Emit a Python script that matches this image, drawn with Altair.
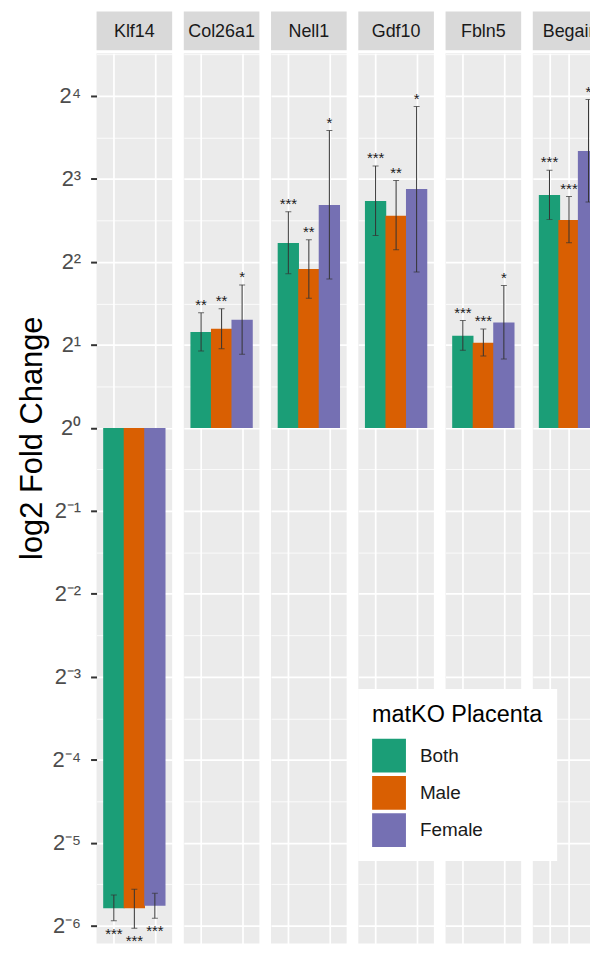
import altair as alt
import pandas as pd

genes = ["Klf14", "Col26a1", "Nell1", "Gdf10", "Fbln5", "Begain"]
groups = ["Both", "Male", "Female"]
colors = ["#1B9E77", "#D95F02", "#7570B3"]

# log2 fold change per gene (Both, Male, Female)
log2fc = {
    "Klf14":   [-5.79, -5.79, -5.76],
    "Col26a1": [1.155, 1.195, 1.303],
    "Nell1":   [2.227, 1.915, 2.686],
    "Gdf10":   [2.734, 2.558, 2.878],
    "Fbln5":   [1.111, 1.027, 1.271],
    "Begain":  [2.806, 2.506, 3.337],
}
err_low = {
    "Klf14":   [-5.94, -6.03, -5.91],
    "Col26a1": [0.927, 0.955, 0.887],
    "Nell1":   [1.859, 1.562, 1.795],
    "Gdf10":   [2.318, 2.146, 1.879],
    "Fbln5":   [0.935, 0.867, 0.831],
    "Begain":  [2.510, 2.230, 2.722],
}
err_high = {
    "Klf14":   [-5.63, -5.56, -5.61],
    "Col26a1": [1.387, 1.435, 1.723],
    "Nell1":   [2.606, 2.266, 3.585],
    "Gdf10":   [3.157, 2.982, 3.873],
    "Fbln5":   [1.295, 1.191, 1.715],
    "Begain":  [3.106, 2.790, 3.957],
}
stars = {
    "Klf14":   ["***", "***", "***"],
    "Col26a1": ["**", "**", "*"],
    "Nell1":   ["***", "**", "*"],
    "Gdf10":   ["***", "**", "*"],
    "Fbln5":   ["***", "***", "*"],
    "Begain":  ["***", "***", "*"],
}

rows = []
for g in genes:
    for i, grp in enumerate(groups):
        rows.append(dict(gene=g, group=grp, pos=i, value=log2fc[g][i],
                         lo=err_low[g][i], hi=err_high[g][i], star=stars[g][i]))
df = pd.DataFrame(rows)

FONT = "Liberation Sans"
PX_PER_UNIT = 83.4
PW = 76
STEP = PW / 3.2
PH = 895
Y_TOP = 4.516
Y_DOMAIN = [Y_TOP - PH / PX_PER_UNIT, Y_TOP]
grid_vals = [v / 2 for v in range(-12, 10)]
LAST_W = 57.5

label_expr = ("datum.value % 1 != 0 ? '' : '2' + (datum.value < 0 ? '\u207b' : '') + "
              "['\u2070','\u00b9','\u00b2','\u00b3','\u2074','\u2075','\u2076'][abs(datum.value)]")

grid_w = {"condition": {"test": "datum.value % 1 == 0", "value": 1.7}, "value": 0.8}
tick_op = {"condition": {"test": "datum.value % 1 == 0", "value": 1}, "value": 0}

color_enc = alt.Color(
    "group:N",
    scale=alt.Scale(domain=groups, range=colors),
    legend=alt.Legend(
        title="matKO Placenta", orient="none", legendX=263, legendY=681,
        fillColor="white", padding=14, titleFontSize=23.5, titleFont=FONT,
        titleFontWeight="normal", titleColor="#000000", titlePadding=12.5,
        labelFontSize=19, labelFont=FONT, labelColor="#1A1A1A",
        symbolType="square", symbolSize=1156, symbolStrokeWidth=0,
        symbolOpacity=1, rowPadding=3.5, labelOffset=14,
    ),
)

panels = []
for idx, g in enumerate(genes):
    last = idx == len(genes) - 1
    w = LAST_W if last else PW
    x_dom = [-0.6, -0.6 + w / STEP]
    base = alt.Chart(df).transform_filter(alt.datum.gene == g)
    x_scale = alt.Scale(domain=x_dom, nice=False, zero=False)
    x_enc = alt.X(
        "pos:Q", scale=x_scale,
        axis=alt.Axis(values=[0, 1] if last else [0, 1, 2], labels=False, ticks=False,
                      domain=False, title=None, grid=True, gridColor="white", gridWidth=1.7),
    )
    x_plain = alt.X("pos:Q", scale=x_scale)
    if idx == 0:
        y_axis = alt.Axis(
            values=grid_vals, labelExpr=label_expr, grid=True, gridColor="white",
            gridWidth=grid_w, tickOpacity=tick_op, domain=False, tickColor="#333333",
            tickWidth=2, tickSize=6, labelFontSize=22, labelFont=FONT,
            labelColor="#4D4D4D", labelPadding=10, title="log2 Fold Change",
            titleFontSize=31, titleFont=FONT, titleFontWeight="normal",
            titleColor="#000000", titlePadding=4, titleY=386.5,
        )
    else:
        y_axis = alt.Axis(values=grid_vals, labels=False, ticks=False, domain=False,
                          title=None, grid=True, gridColor="white", gridWidth=grid_w)
    y_scale = alt.Scale(domain=Y_DOMAIN, nice=False, zero=False)

    bars = base.mark_bar(size=21.4, clip=True).encode(
        x=x_enc,
        y=alt.Y("value:Q", scale=y_scale, axis=y_axis),
        color=color_enc,
    )
    rules = base.mark_rule(color="#333333", strokeWidth=1, clip=True).encode(
        x=x_plain, y="lo:Q", y2="hi:Q")
    tick_lo = base.mark_tick(orient="horizontal", size=6, thickness=1, color="#333333",
                             clip=True).encode(x=x_plain, y="lo:Q")
    tick_hi = base.mark_tick(orient="horizontal", size=6, thickness=1, color="#333333",
                             clip=True).encode(x=x_plain, y="hi:Q")
    if log2fc[g][0] > 0:
        txt = base.mark_text(fontSize=15, font=FONT, color="#1A1A1A", dy=-2.7,
                             baseline="alphabetic", clip=True).encode(
            x=x_plain, y="hi:Q", text="star:N")
    else:
        txt = base.mark_text(fontSize=15, font=FONT, color="#1A1A1A", dy=18,
                             baseline="alphabetic", clip=True).encode(
            x=x_plain, y="lo:Q", text="star:N")

    main = alt.layer(bars, rules, tick_lo, tick_hi, txt).properties(
        width=w, height=PH, view=alt.ViewBackground(fill="#EBEBEB", stroke=None))

    strip = alt.Chart(pd.DataFrame({"gene": [g]})).mark_text(
        fontSize=18, font=FONT, color="#1A1A1A", baseline="middle", align="center", clip=True
    ).encode(
        text="gene:N", x=alt.value(PW / 2), y=alt.value(20.5)
    ).properties(width=w, height=39, view=alt.ViewBackground(fill="#D9D9D9", stroke=None))

    panels.append(alt.vconcat(strip, main, spacing=3))

chart = alt.hconcat(*panels, spacing=11.7).properties(
    padding={"left": 8, "top": 1, "right": 0, "bottom": 0}
).configure(font=FONT).configure_view(stroke=None)

chart.save("out.html", embed_options={"renderer": "svg", "actions": False})
